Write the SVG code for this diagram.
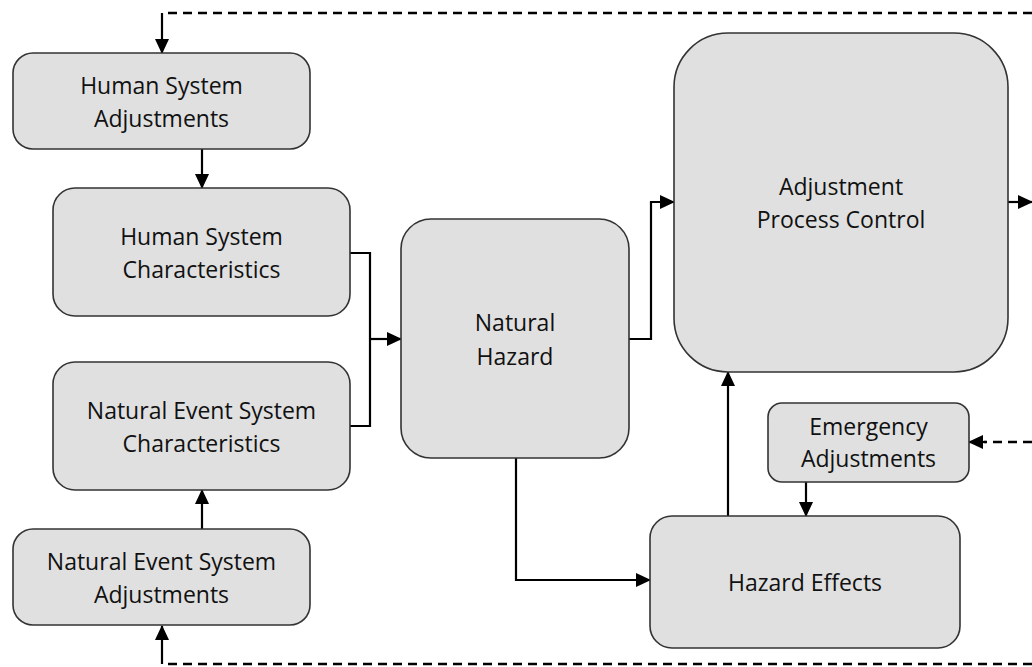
<svg xmlns="http://www.w3.org/2000/svg" width="1032" height="667" viewBox="0 0 1032 667">
<style>
.box{fill:#e0e0e0;stroke:#333;stroke-width:1.6}
.t{font-family:"Open Sans","Noto Sans",sans-serif;font-size:23px;fill:#111;text-anchor:middle}
.c{fill:none;stroke:#000;stroke-width:2.2}
.d{fill:none;stroke:#000;stroke-width:2.6;stroke-dasharray:9,6}
</style>
<defs>
<marker id="a" markerUnits="userSpaceOnUse" markerWidth="15" markerHeight="14" refX="14" refY="7" orient="auto">
<path d="M0,0 L15,7 L0,14 Z" fill="#000"/>
</marker>
</defs>
<rect width="1032" height="667" fill="#fff"/>
<g id="connectors">
<path class="d" d="M1032,13 H162"/>
<path class="c" d="M162,13 V53" marker-end="url(#a)"/>
<path class="c" d="M202,149 V188" marker-end="url(#a)"/>
<path class="c" d="M350,253 H370 V426 H350"/>
<path class="c" d="M370,339 H401" marker-end="url(#a)"/>
<path class="c" d="M202,529 V490" marker-end="url(#a)"/>
<path class="d" d="M1032,664 H162"/>
<path class="c" d="M162,664 V626" marker-end="url(#a)"/>
<path class="c" d="M629,339 H651 V202 H674" marker-end="url(#a)"/>
<path class="c" d="M1008,202 H1032" marker-end="url(#a)"/>
<path class="d" d="M1032,442 H984"/>
<path class="c" d="M986,442 H969" marker-end="url(#a)"/>
<path class="c" d="M806,482 V516" marker-end="url(#a)"/>
<path class="c" d="M728,516 V372" marker-end="url(#a)"/>
<path class="c" d="M516,458 V580 H650" marker-end="url(#a)"/>
</g>
<g id="human-system-adjustments">
<rect class="box" x="13" y="53" width="297" height="96" rx="20"/>
<text class="t" x="161.5" y="94">Human System</text>
<text class="t" x="161.5" y="127">Adjustments</text>
</g>
<g id="human-system-characteristics">
<rect class="box" x="53" y="188" width="297" height="128" rx="22"/>
<text class="t" x="201.5" y="245">Human System</text>
<text class="t" x="201.5" y="278">Characteristics</text>
</g>
<g id="natural-event-system-characteristics">
<rect class="box" x="53" y="362" width="297" height="128" rx="22"/>
<text class="t" x="201.5" y="419">Natural Event System</text>
<text class="t" x="201.5" y="452">Characteristics</text>
</g>
<g id="natural-event-system-adjustments">
<rect class="box" x="13" y="529" width="297" height="96" rx="20"/>
<text class="t" x="161.5" y="570">Natural Event System</text>
<text class="t" x="161.5" y="603">Adjustments</text>
</g>
<g id="natural-hazard">
<rect class="box" x="401" y="219" width="228" height="239" rx="30"/>
<text class="t" x="515" y="331">Natural</text>
<text class="t" x="515" y="365">Hazard</text>
</g>
<g id="adjustment-process-control">
<rect class="box" x="674" y="33" width="334" height="339" rx="54"/>
<text class="t" x="841" y="195">Adjustment</text>
<text class="t" x="841" y="228">Process Control</text>
</g>
<g id="emergency-adjustments">
<rect class="box" x="768" y="403" width="201" height="79" rx="14"/>
<text class="t" x="868.5" y="435">Emergency</text>
<text class="t" x="868.5" y="467">Adjustments</text>
</g>
<g id="hazard-effects">
<rect class="box" x="650" y="516" width="310" height="132" rx="22"/>
<text class="t" x="805" y="591">Hazard Effects</text>
</g>
</svg>
